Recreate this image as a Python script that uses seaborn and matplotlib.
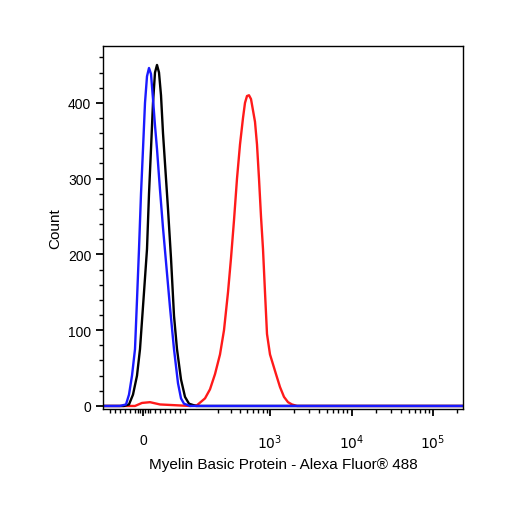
import numpy as np
import pandas as pd
import matplotlib
matplotlib.use("Agg")
import matplotlib.pyplot as plt
import seaborn as sns

sns.set_style("ticks")
plt.rcParams['font.family'] = ['Liberation Sans', 'DejaVu Sans']
plt.rcParams['text.color'] = 'black'
plt.rcParams['axes.labelcolor'] = 'black'
plt.rcParams['xtick.color'] = 'black'
plt.rcParams['ytick.color'] = 'black'
plt.rcParams['axes.edgecolor'] = 'black'

# x in display channel units (biexponential axis), y = count
blue_x = [103, 120, 126, 129, 132, 135, 137, 139, 141, 143, 145, 147, 149, 151, 153, 155, 157, 160, 163, 166, 170, 174, 178, 181, 184, 190, 463]
blue_y = [0, 0, 2, 15, 40, 75, 140, 207, 280, 339, 400, 435, 446, 438, 405, 370, 339, 285, 235, 190, 130, 75, 30, 10, 3, 0, 0]
black_x = [103, 124, 129, 133, 137, 140, 144, 147, 149, 151, 153, 155, 157, 159, 161, 163, 165, 168, 171, 174, 177, 181, 185, 189, 196, 463]
black_y = [0, 0, 2, 15, 40, 75, 150, 207, 280, 339, 400, 440, 450, 440, 410, 360, 320, 260, 195, 119, 75, 35, 12, 3, 0, 0]
red_x = [103, 135, 142, 150, 160, 175, 190, 197, 205, 210, 215, 220, 224, 228, 231, 234, 237, 240, 243, 245, 247, 249, 251, 253, 255, 257, 259, 261, 263, 265, 267, 270, 273, 276, 280, 284, 288, 292, 297, 463]
red_y = [0, 0, 4, 5, 2, 1, 0, 1, 10, 22, 42, 68, 100, 150, 195, 245, 300, 345, 380, 400, 409, 410, 405, 390, 375, 345, 300, 250, 207, 150, 95, 68, 55, 42, 25, 12, 5, 2, 0, 0]

xtick_pos = [143, 270, 352, 433]
xtick_labels = ["0", "$10^3$", "$10^4$", "$10^5$"]
ytick_pos = [0, 100, 200, 300, 400]

fig = plt.figure(figsize=(5.06, 5.06), dpi=100)
ax = fig.add_axes([103/506, 1-410/506, 360/506, 363/506])
for xs, ys, c in [(red_x, red_y, "#ff1a1a"), (black_x, black_y, "black"), (blue_x, blue_y, "#1a1aff")]:
    sns.lineplot(x=xs, y=ys, color=c, lw=1.7, ax=ax, sort=False, estimator=None)

ax.set_xlim(103, 463)
ax.set_ylim(-4, 475)
ax.set_xticks(xtick_pos)
ax.set_xticklabels(xtick_labels, fontsize=10)
ax.set_yticks(ytick_pos)
ax.set_yticklabels([str(v) for v in ytick_pos], fontsize=10)
minor_x = []
for d0 in [270, 352, 433]:
    minor_x += [d0 + 81*np.log10(k) for k in range(2, 10) if d0 + 81*np.log10(k) < 463]
minor_x += [195 + 75*np.log10(k) for k in range(2, 10)]
minor_x += [110, 115, 120, 125, 130, 135, 138, 140, 145, 148, 150, 155, 160, 165, 170, 175, 180, 185]
ax.set_xticks(minor_x, minor=True)
ax.set_yticks(np.arange(0, 475, 20), minor=True)
ax.tick_params(which="major", direction="out", length=5, width=1.3)
ax.tick_params(which="minor", direction="out", length=3, width=1)
ax.tick_params(axis="x", pad=12)
for s in ax.spines.values():
    s.set_linewidth(1)
ax.set_xlabel("Myelin Basic Protein - Alexa Fluor® 488", fontsize=11)
ax.set_ylabel("Count", fontsize=11)
fig.savefig("out.png", dpi=100)
